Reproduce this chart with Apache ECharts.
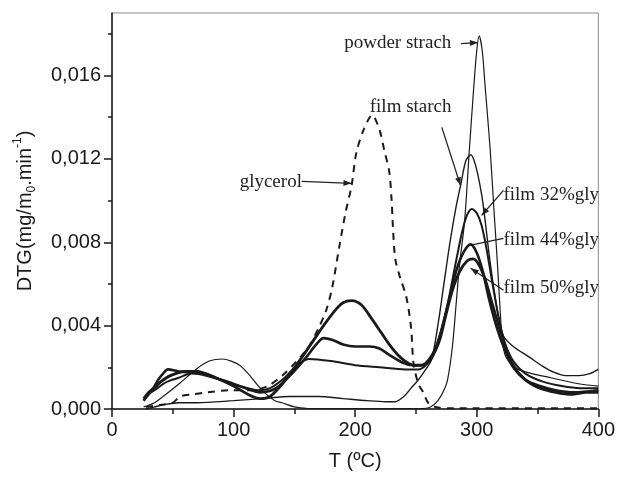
<!DOCTYPE html>
<html>
<head>
<meta charset="utf-8">
<script src="https://cdn.jsdelivr.net/npm/echarts@6/dist/echarts.min.js"></script>
<style>html,body{margin:0;padding:0;background:#fff}#c{width:618px;height:478px}</style>
</head>
<body>
<div id="c"></div>
<script>
// ---- data: [T (°C), DTG] ----
const glycerol = [[28,0.0001],[40,0.0002],[50,0.0003],[56,0.0006],[66,0.0007],[78,0.0008],[97,0.0009],[115,0.0009],[128,0.0011],[140,0.0016],[152,0.0023],[162,0.0030],[170,0.0039],[176,0.0047],[181,0.0058],[187,0.0078],[192,0.0094],[197,0.0107],[201,0.0123],[207,0.0134],[214,0.0141],[220,0.0134],[224,0.0124],[228,0.0114],[230,0.0100],[231,0.0088],[233,0.0072],[237,0.0063],[242,0.0054],[246,0.0039],[248,0.0022],[252,0.0012],[256,0.0008],[260,0.0003],[266,0.0001],[280,0.00003],[400,0.00003]];
const powderStarch = [[26,0.0001],[35,0.0003],[42,0.0006],[55,0.0012],[69,0.0019],[80,0.0023],[91,0.0024],[98,0.0023],[105,0.0021],[112,0.0017],[119,0.0012],[127,0.0007],[134,0.0004],[140,0.0003],[150,0.0001],[160,0.00003],[200,0.00002],[255,0.00002],[262,0.0001],[268,0.0004],[273,0.0009],[276,0.0014],[280,0.0030],[283,0.0050],[286,0.0070],[290,0.0090],[294,0.0125],[297.5,0.0154],[300,0.0172],[302,0.0179],[304.5,0.0172],[307,0.0154],[311,0.0125],[314,0.0097],[317,0.0070],[319.5,0.0045],[321,0.0033],[324,0.0025],[334,0.0019],[361,0.0015],[385,0.0012],[400,0.0011]];
const filmStarch = [[28,0.0000],[35,0.0001],[42,0.0002],[55,0.0003],[70,0.0003],[100,0.0004],[124,0.0005],[146,0.0006],[170,0.0006],[190,0.0005],[210,0.0004],[225,0.00035],[233,0.00035],[240,0.0006],[246,0.0010],[252,0.0014],[258,0.0019],[263,0.0024],[268,0.0040],[273,0.0060],[278,0.0080],[283,0.0097],[287,0.0108],[291,0.0119],[295,0.0122],[299,0.0117],[304,0.0103],[307,0.0090],[310,0.0075],[314,0.0058],[318,0.0044],[322,0.0035],[330,0.0030],[343,0.0025],[353,0.0021],[362,0.0018],[373,0.0016],[384,0.0016],[393,0.0017],[400,0.0019]];
const film32 = [[26,0.0004],[30,0.0007],[35,0.0009],[45,0.0013],[55,0.0015],[65,0.0017],[75,0.0017],[90,0.0014],[105,0.0011],[120,0.0009],[130,0.0010],[142,0.0015],[152,0.0021],[162,0.0024],[180,0.0023],[200,0.0021],[220,0.0020],[241,0.0019],[252,0.0019],[258,0.0021],[264,0.0026],[270,0.0036],[276,0.0050],[282,0.0068],[288,0.0085],[292,0.0093],[296,0.0096],[300,0.0094],[304,0.0088],[308,0.0077],[313,0.0060],[318,0.0044],[323,0.0032],[330,0.0023],[340,0.0017],[355,0.0013],[370,0.0011],[385,0.0010],[400,0.0010]];
const film44 = [[26,0.0005],[30,0.0008],[34,0.0010],[38,0.0014],[42,0.0017],[46,0.0019],[55,0.0018],[70,0.0017],[90,0.0014],[110,0.0010],[122,0.0008],[135,0.0010],[148,0.0017],[160,0.0025],[168,0.0031],[174,0.0034],[182,0.0033],[190,0.0031],[200,0.0030],[212,0.0030],[220,0.0029],[228,0.0026],[240,0.0022],[247,0.0021],[255,0.0021],[261,0.0024],[266,0.0029],[271,0.0038],[277,0.0052],[283,0.0066],[289,0.0075],[295,0.0079],[300,0.0075],[305,0.0066],[310,0.0053],[316,0.0040],[322,0.0030],[330,0.0020],[340,0.0014],[352,0.0011],[365,0.0009],[380,0.0008],[400,0.0009]];
const film50 = [[26,0.0004],[30,0.0007],[35,0.0010],[40,0.0013],[48,0.0016],[60,0.0018],[70,0.0018],[85,0.0015],[100,0.0011],[112,0.0007],[122,0.0005],[130,0.0006],[140,0.0012],[148,0.0018],[154,0.0023],[160,0.0028],[167,0.0034],[174,0.0040],[183,0.0047],[190,0.0051],[197,0.0052],[205,0.0050],[214,0.0043],[221,0.0037],[228,0.0031],[235,0.0026],[241,0.0023],[248,0.0021],[254,0.0021],[261,0.0023],[266,0.0028],[270,0.0034],[275,0.0046],[280,0.0057],[286,0.0066],[292,0.0071],[297,0.0072],[302,0.0069],[307,0.0062],[312,0.0052],[318,0.0040],[323,0.0031],[330,0.0021],[340,0.0014],[352,0.0010],[365,0.0008],[378,0.0007],[390,0.0008],[400,0.0008]];

// ticks
const xMajorTicks = [0, 100, 200, 300, 400];
const xMinorTicks = [50, 150, 250, 350];
const yMajorTicks = [0, 0.004, 0.008, 0.012, 0.016];
const yMinorTicks = [0.002, 0.006, 0.010, 0.014, 0.018];

// annotations: text anchor (left, middle) and arrow from -> to, in data units
const annotations = [
  {text: 'powder strach', at: [191, 0.01758], from: [287, 0.01753], to: [301, 0.01758], head: true},
  {text: 'film starch', at: [212, 0.01451], from: [271.3, 0.01351], to: [286.6, 0.01073], head: true},
  {text: 'glycerol', at: [105, 0.01087], from: [156, 0.01092], to: [197, 0.01083], head: true},
  {text: 'film 32%gly', at: [322, 0.01025], from: [322, 0.01049], to: [304, 0.00929], head: true},
  {text: 'film 44%gly', at: [322, 0.00810], from: [322, 0.00819], to: [295, 0.00786], head: false},
  {text: 'film 50%gly', at: [322, 0.00580], from: [322, 0.00570], to: [295, 0.00675], head: true}
];

const INK = '#1a1a1a';
const SANS = '"Liberation Sans", Arial, sans-serif';
const SERIF = '"Liberation Serif", "Times New Roman", serif';

function mk(name, data, width, dashed) {
  return {
    name, type: 'line', data, showSymbol: false, smooth: 0.3,
    xAxisIndex: 0, yAxisIndex: 0,
    lineStyle: {color: INK, width, type: dashed ? [7, 6] : 'solid'},
    itemStyle: {color: INK}, silent: true, animation: false
  };
}

const chart = echarts.init(document.getElementById('c'), null, {renderer: 'canvas'});
chart.setOption({
  animation: false,
  backgroundColor: '#fff',
  grid: {left: 112, right: 18, top: 13, bottom: 69, show: true, borderColor: '#8a8a8a', borderWidth: 1, containLabel: false},
  xAxis: [{
    type: 'value', min: 0, max: 400, interval: 100,
    name: 'T (ºC)', nameLocation: 'middle', nameGap: 42,
    nameTextStyle: {fontFamily: SANS, fontSize: 20, color: INK},
    axisLine: {show: true, onZero: false, lineStyle: {color: INK, width: 1.5}},
    axisTick: {show: true, inside: false, length: 8, customValues: xMajorTicks, lineStyle: {color: INK, width: 1.5}},
    axisLabel: {fontFamily: SANS, fontSize: 20, color: INK, margin: 11, customValues: xMajorTicks},
    splitLine: {show: false}
  }, {
    type: 'value', min: 0, max: 400, position: 'bottom',
    axisLine: {show: false}, axisLabel: {show: false}, splitLine: {show: false},
    axisTick: {show: true, length: 5, customValues: xMinorTicks, lineStyle: {color: INK, width: 1.5}}
  }],
  yAxis: [{
    type: 'value', min: 0, max: 0.019, interval: 0.004,
    name: '{a|DTG(mg/m}{b|0}{a|.min}{c|-1}{a|)}', nameLocation: 'middle', nameRotate: 90, nameGap: 74,
    nameTextStyle: {fontFamily: SANS, fontSize: 20, color: INK, rich: {
      a: {fontFamily: SANS, fontSize: 20, color: INK, lineHeight: 26},
      b: {fontFamily: SANS, fontSize: 12, color: INK, verticalAlign: 'bottom'},
      c: {fontFamily: SANS, fontSize: 12, color: INK, verticalAlign: 'top'}
    }},
    axisLine: {show: true, onZero: false, lineStyle: {color: INK, width: 1.5}},
    axisTick: {show: true, length: 8, customValues: yMajorTicks, lineStyle: {color: INK, width: 1.5}},
    axisLabel: {fontFamily: SANS, fontSize: 20, color: INK, margin: 11, customValues: yMajorTicks,
      formatter: v => v.toFixed(3).replace('.', ',')},
    splitLine: {show: false}
  }, {
    type: 'value', min: 0, max: 0.019, position: 'left',
    axisLine: {show: false}, axisLabel: {show: false}, splitLine: {show: false},
    axisTick: {show: true, length: 4, customValues: yMinorTicks, lineStyle: {color: INK, width: 1.5}}
  }],
  series: [
    mk('glycerol', glycerol, 2, true),
    mk('powder strach', powderStarch, 1.2, false),
    mk('film starch', filmStarch, 1.4, false),
    mk('film 32%gly', film32, 2, false),
    mk('film 44%gly', film44, 2.6, false),
    mk('film 50%gly', film50, 2.8, false)
  ]
});

// annotation graphics positioned through the chart's own scales
const g = [];
annotations.forEach(a => {
  const p = chart.convertToPixel({gridIndex: 0}, a.at);
  const f = chart.convertToPixel({gridIndex: 0}, a.from);
  const t = chart.convertToPixel({gridIndex: 0}, a.to);
  g.push({type: 'text', x: p[0], y: p[1], silent: true,
    style: {text: a.text, font: '19px ' + SERIF, fill: '#222', textAlign: 'left', textVerticalAlign: 'middle', verticalAlign: 'middle'}});
  g.push({type: 'line', silent: true, shape: {x1: f[0], y1: f[1], x2: t[0], y2: t[1]}, style: {stroke: '#222', lineWidth: 1.3}});
  if (a.head) {
    const dx = t[0] - f[0], dy = t[1] - f[1];
    const L = Math.hypot(dx, dy), ux = dx / L, uy = dy / L;
    const hl = 8, hw = 3;
    const bx = t[0] - ux * hl, by = t[1] - uy * hl;
    g.push({type: 'polygon', silent: true, shape: {points: [[t[0], t[1]], [bx - uy * hw, by + ux * hw], [bx + uy * hw, by - ux * hw]]}, style: {fill: '#222'}});
  }
});
chart.setOption({graphic: g});
</script>
</body>
</html>
